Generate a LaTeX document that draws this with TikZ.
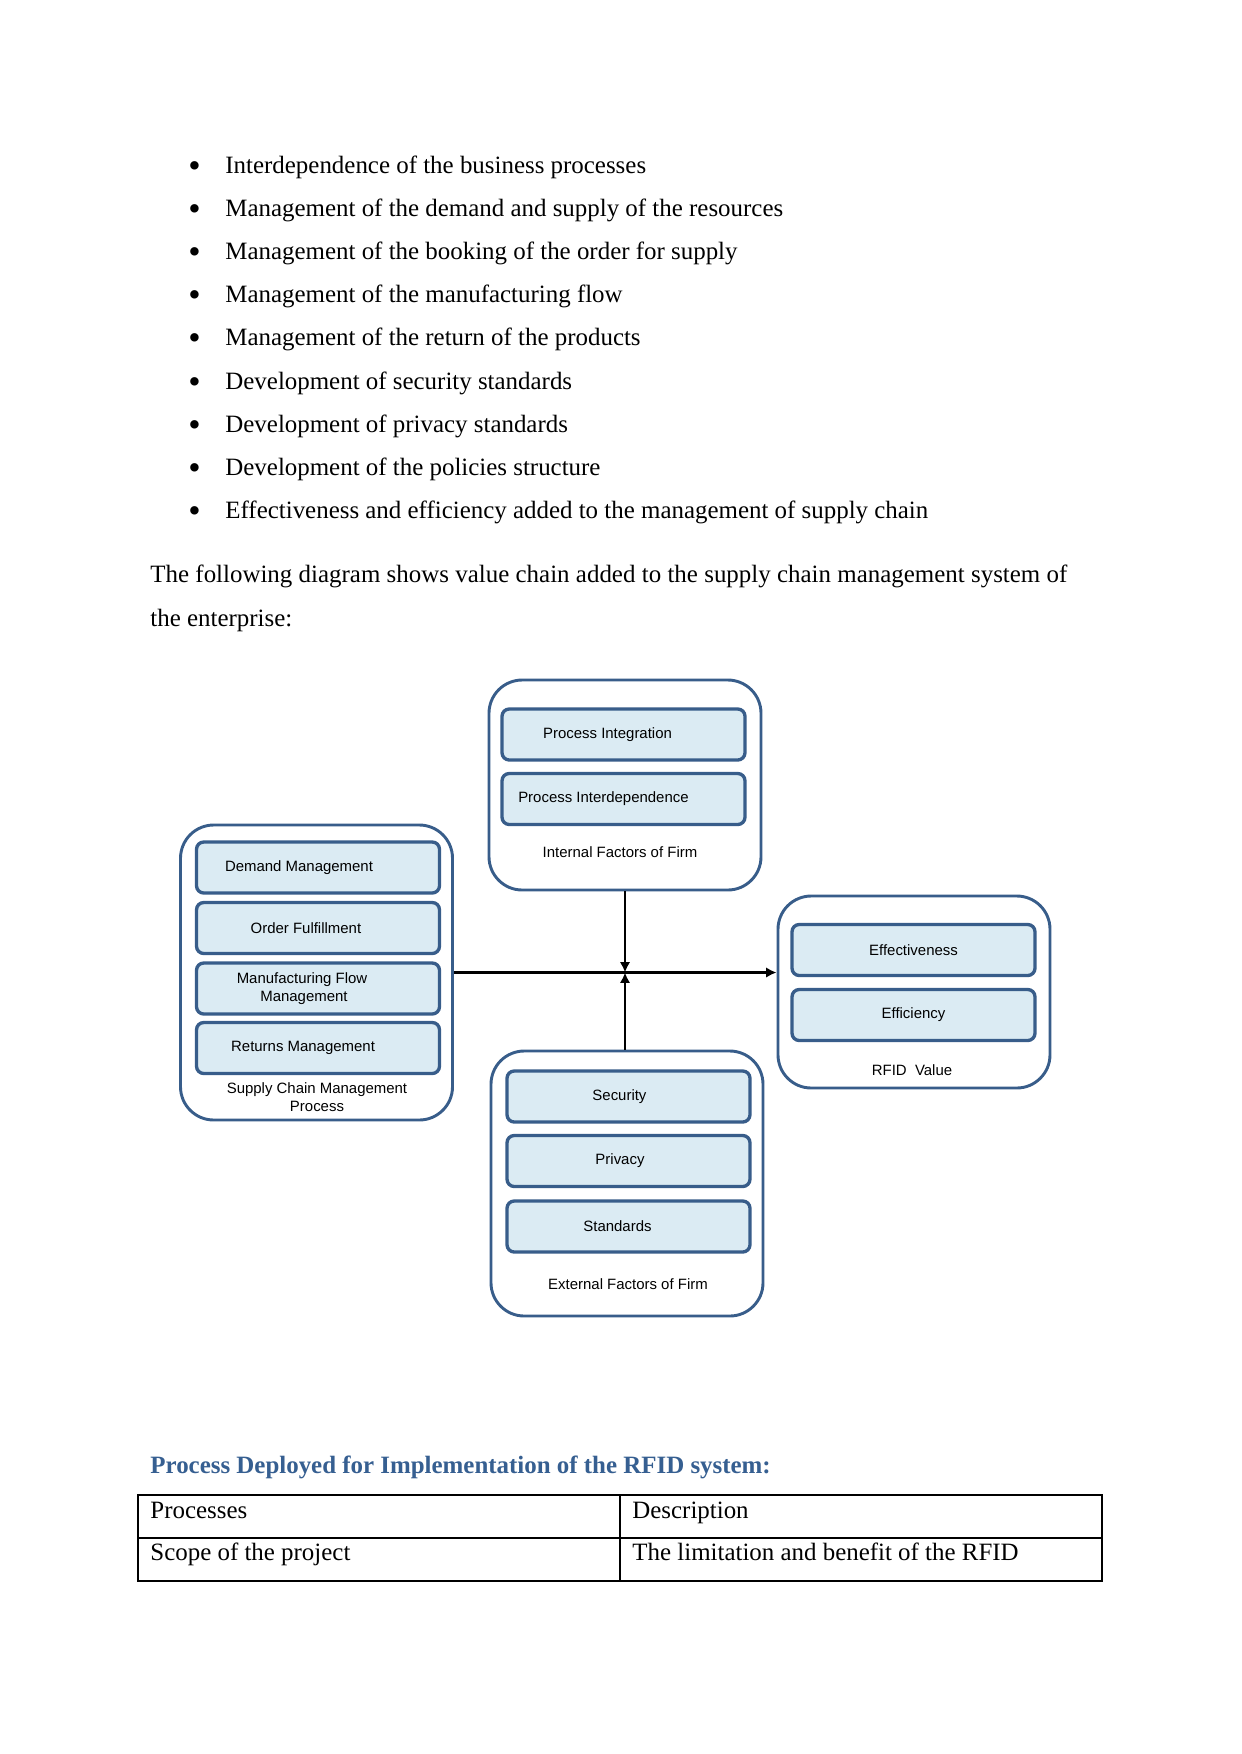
\documentclass[tikz,border=0pt]{standalone}
\usepackage{fontspec}
\setmainfont{Liberation Serif}
\newfontfamily\diagfont{Liberation Sans}
\usetikzlibrary{arrows.meta, positioning, calc}
\definecolor{boxblue}{RGB}{56, 93, 138}
\definecolor{boxfill}{RGB}{219, 235, 243}
\definecolor{headblue}{RGB}{54, 95, 145}

\begin{document}
\begin{tikzpicture}[x=0.4815pt, y=-0.4815pt,
    outerbox/.style={draw=boxblue, line width=1.4pt, fill=white, rounded corners=16pt, minimum width=272*0.4815pt},
    innerbox/.style={draw=boxblue, line width=1.6pt, fill=boxfill, rounded corners=3.5pt, minimum width=243*0.4815pt, minimum height=51*0.4815pt, align=center, font=\diagfont\fontsize{7.2}{8.4}\selectfont},
    boxlabel/.style={align=center, inner sep=0pt, font=\diagfont\fontsize{7.2}{8.4}\selectfont},
    bodytext/.style={anchor=base west, inner sep=0pt, font=\fontsize{12}{14}\selectfont},
    link/.style={line width=1.4pt, -{Latex[length=5pt, width=5pt]}}]
                % Page
                \fill[white] (0,0) rectangle (1241,1754);
                \useasboundingbox (0,0) rectangle (1241,1754);
                % Bullet list
                \foreach \txt [count=\i from 0] in {Interdependence of the business processes, Management of the demand and supply of the resources, Management of the booking of the order for supply, Management of the manufacturing flow, Management of the return of the products, Development of security standards, Development of privacy standards, Development of the policies structure, Effectiveness and efficiency added to the management of supply chain}{
                    \node[bodytext, font=\fontsize{17}{17}\selectfont] (bul\i) at (188,177+43.2*\i) {\textbullet};
                    \node[bodytext] (item\i) at (225,173+43.2*\i) {\txt};
                }
                \node[bodytext] (para1) at (150,582) {\makebox[441.5pt][s]{The following diagram shows value chain added to the supply chain management system of}};
                \node[bodytext] (para2) at (150,626) {the enterprise:};
                % Internal factors
                \node[outerbox, minimum height=210*0.4815pt] (internal) at (625,785) {};
                \node[innerbox] (integration) at (623.5,734.5) {Process Integration\hspace*{15.4pt}};
                \node[innerbox] (interdep) at (623.5,799) {Process Interdependence\hspace*{19.3pt}};
                \node[boxlabel] (internallbl) at (620,852) {Internal Factors of Firm};
                % Supply chain management process
                \node[outerbox, minimum height=295*0.4815pt] (scm) at (316.5,972.5) {};
                \node[innerbox] (demand) at (318,867.5) {Demand Management\hspace*{18.3pt}};
                \node[innerbox] (order) at (318,928) {Order Fulfillment\hspace*{11.6pt}};
                \node[innerbox] (manuf) at (318,988.5) {Manufacturing Flow\hspace*{15.4pt}\\Management\hspace*{13.5pt}};
                \node[innerbox] (returns) at (318,1048) {Returns Management\hspace*{14.4pt}};
                \node[boxlabel] (scmlbl) at (317,1097) {Supply Chain Management\\Process};
                % RFID value
                \node[outerbox, minimum height=192*0.4815pt] (rfid) at (914,992) {};
                \node[innerbox] (effective) at (913.5,950) {Effectiveness};
                \node[innerbox] (efficient) at (913.5,1015) {Efficiency};
                \node[boxlabel] (rfidlbl) at (912,1070) {RFID\ \ Value};
                % External factors
                \node[outerbox, minimum height=265*0.4815pt] (external) at (627,1183.5) {};
                \node[innerbox] (security) at (628.5,1096.5) {Security\hspace*{8.7pt}};
                \node[innerbox] (privacy) at (628.5,1161) {Privacy\hspace*{8.2pt}};
                \node[innerbox] (standards) at (628.5,1226.5) {Standards\hspace*{10.6pt}};
                \node[boxlabel] (externallbl) at (628,1284) {External Factors of Firm};
                % Arrows
                \coordinate (hub) at (internal.south |- scm.east);
                \draw[link] (scm.east) -- (scm.east -| rfid.west);
                \draw[link] (internal.south) -- (hub);
                \draw[link] (hub |- external.north) -- (hub);
                % Heading and table
                \node[bodytext, font=\fontsize{12}{14}\selectfont\bfseries, text=headblue] (heading) at (150,1473) {Process Deployed for Implementation of the RFID system:};
                \draw[line width=0.6pt] (138,1495) rectangle (1102,1581);
                \draw[line width=0.6pt] (620,1495) -- (620,1581);
                \draw[line width=0.6pt] (138,1538) -- (1102,1538);
                \node[bodytext] (cell11) at (150,1518) {Processes};
                \node[bodytext] (cell12) at (632,1518) {Description};
                \node[bodytext] (cell21) at (150,1560) {Scope of the project};
                \node[bodytext] (cell22) at (632,1560) {The limitation and benefit of the RFID};
\end{tikzpicture}
\end{document}
